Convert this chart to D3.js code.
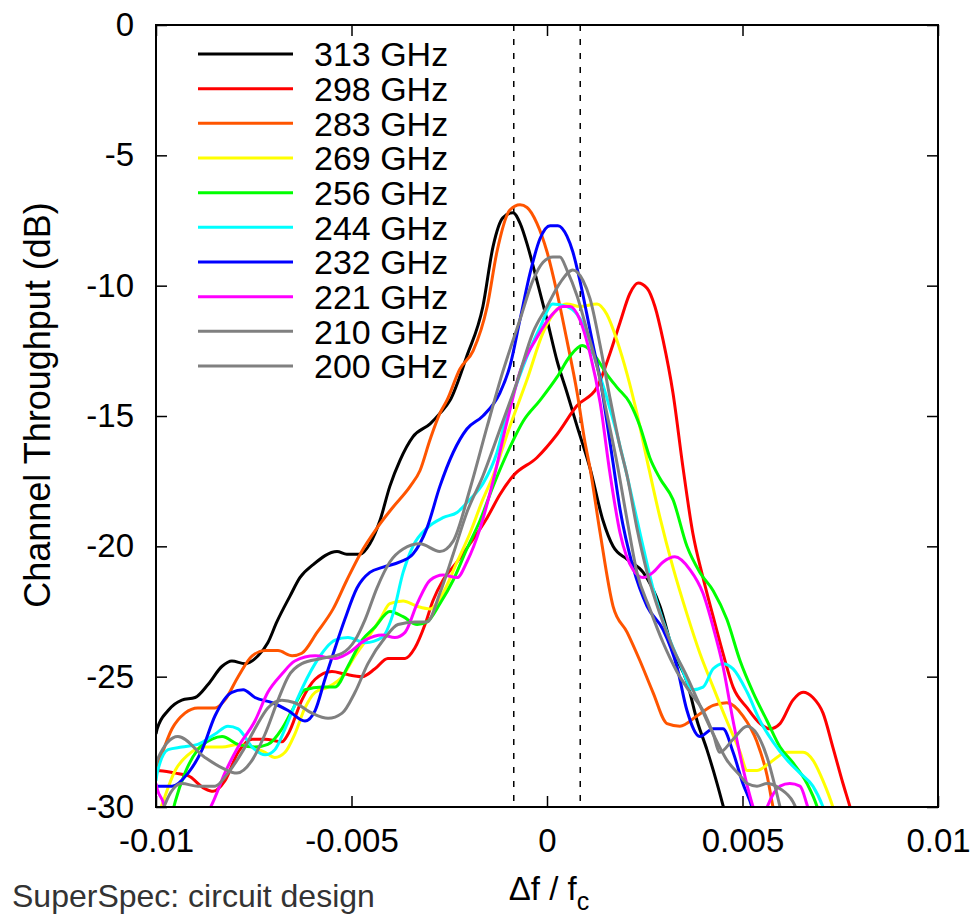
<!DOCTYPE html>
<html>
<head>
<meta charset="utf-8">
<script src="https://cdn.jsdelivr.net/npm/d3@7"></script>
<style>
    body { margin: 0; background: #fff; }
    svg { display: block; font-family: "Liberation Sans", Arial, sans-serif; }
</style>
</head>
<body>
<div id="chart"></div>
<script>
//Datos: [Δf/fc, dB]
const s313 = [[-0.01,-27.2],[-0.00997,-27.0],[-0.00969,-26.3],[-0.00934,-25.9],[-0.00900,-25.8],[-0.00867,-25.3],[-0.00831,-24.6],[-0.00806,-24.4],[-0.00772,-24.5],[-0.00739,-24.2],[-0.00714,-23.7],[-0.00691,-22.9],[-0.00657,-21.9],[-0.00632,-21.2],[-0.00598,-20.7],[-0.00537,-20.2],[-0.00512,-20.3],[-0.00478,-20.3],[-0.00453,-19.9],[-0.00427,-19.0],[-0.00402,-17.7],[-0.00376,-16.7],[-0.00343,-15.8],[-0.00299,-15.3],[-0.00274,-14.9],[-0.00248,-14.4],[-0.00205,-12.7],[-0.00164,-10.8],[-0.00138,-8.5],[-0.00113,-7.4],[-0.00087,-7.2],[-0.00069,-7.6],[-0.00049,-8.5],[-0.00026,-9.8],[0,-11.3],[0.00026,-12.9],[0.00051,-14.1],[0.00077,-15.4],[0.00110,-17.0],[0.00143,-19.0],[0.00169,-20.0],[0.00205,-20.5],[0.00246,-21.0],[0.00289,-22.3],[0.00322,-24.0],[0.00358,-25.2],[0.00384,-26.7],[0.00409,-27.8],[0.00435,-29.1],[0.00460,-30.5]];
const s298 = [[-0.01,-28.6],[-0.00997,-28.6],[-0.00951,-28.7],[-0.00918,-28.8],[-0.00875,-29.3],[-0.00854,-29.4],[-0.00824,-29.0],[-0.00790,-27.9],[-0.00754,-27.4],[-0.00721,-27.4],[-0.00678,-27.5],[-0.00662,-27.2],[-0.00627,-25.9],[-0.00593,-25.1],[-0.00550,-24.8],[-0.00517,-24.9],[-0.00473,-25.0],[-0.00440,-24.7],[-0.00407,-24.3],[-0.00363,-24.3],[-0.00338,-23.9],[-0.00312,-23.0],[-0.00292,-22.1],[-0.00266,-21.3],[-0.00230,-20.6],[-0.00197,-19.9],[-0.00153,-18.9],[-0.00120,-18.0],[-0.00087,-17.3],[-0.00026,-16.6],[0.00026,-15.7],[0.00077,-14.6],[0.00128,-13.9],[0.00161,-12.6],[0.00187,-11.4],[0.00212,-10.3],[0.00233,-9.9],[0.00256,-10.1],[0.00276,-10.8],[0.00297,-12.1],[0.00322,-14.1],[0.00348,-17.0],[0.00373,-19.5],[0.00399,-21.2],[0.00425,-22.7],[0.00450,-24.1],[0.00476,-25.4],[0.00512,-26.2],[0.00545,-26.8],[0.00570,-27.0],[0.00596,-26.8],[0.00629,-25.9],[0.00655,-25.6],[0.00680,-25.8],[0.00706,-26.4],[0.00731,-27.7],[0.00757,-29.1],[0.00775,-30.0],[0.00793,-31.0]];
const s283 = [[-0.01,-28.6],[-0.00995,-28.4],[-0.00959,-27.0],[-0.00926,-26.4],[-0.00893,-26.2],[-0.00849,-26.2],[-0.00824,-25.9],[-0.00790,-25.0],[-0.00754,-24.2],[-0.00721,-24.0],[-0.00688,-24.0],[-0.00652,-24.2],[-0.00627,-24.1],[-0.00588,-23.3],[-0.00547,-22.4],[-0.00512,-21.3],[-0.00478,-20.3],[-0.00435,-19.3],[-0.00394,-18.5],[-0.00350,-17.7],[-0.00325,-17.1],[-0.00299,-15.9],[-0.00274,-14.9],[-0.00256,-14.4],[-0.00223,-13.2],[-0.00189,-12.5],[-0.00153,-10.8],[-0.00128,-8.7],[-0.00095,-7.1],[-0.00069,-6.9],[-0.00051,-7.0],[-0.00026,-7.6],[0,-8.7],[0.00026,-10.3],[0.00051,-12.1],[0.00077,-14.1],[0.00097,-16.0],[0.00110,-17.0],[0.00136,-19.5],[0.00169,-22.3],[0.00205,-23.3],[0.00238,-24.4],[0.00271,-25.6],[0.00307,-26.8],[0.00340,-26.9],[0.00384,-26.5],[0.00425,-26.1],[0.00460,-26.0],[0.00501,-26.5],[0.00537,-27.5],[0.00563,-28.8],[0.00578,-30.0],[0.00596,-31.0]];
const s269 = [[-0.01,-30.6],[-0.00982,-29.8],[-0.00951,-28.6],[-0.00918,-28.0],[-0.00875,-27.7],[-0.00831,-27.7],[-0.00790,-27.6],[-0.00754,-27.7],[-0.00721,-27.9],[-0.00696,-28.1],[-0.00670,-27.9],[-0.00645,-27.2],[-0.00619,-26.2],[-0.00593,-25.6],[-0.00560,-25.4],[-0.00524,-25.0],[-0.00491,-24.2],[-0.00458,-23.5],[-0.00427,-22.8],[-0.00402,-22.2],[-0.00368,-22.1],[-0.00332,-22.3],[-0.00299,-22.4],[-0.00266,-21.8],[-0.00230,-20.6],[-0.00197,-19.5],[-0.00164,-18.2],[-0.00138,-17.3],[-0.00095,-15.4],[-0.00051,-13.6],[-0.00010,-11.8],[0.00026,-10.9],[0.00051,-10.7],[0.00084,-10.8],[0.00128,-10.7],[0.00153,-11.1],[0.00179,-12.1],[0.00205,-13.4],[0.00230,-14.9],[0.00256,-16.7],[0.00289,-18.9],[0.00322,-20.8],[0.00358,-22.6],[0.00391,-24.1],[0.00425,-25.4],[0.00460,-26.7],[0.00494,-27.9],[0.00512,-28.6],[0.00537,-28.6],[0.00570,-28.3],[0.00614,-27.9],[0.00655,-27.9],[0.00680,-28.2],[0.00706,-29.0],[0.00731,-30.0],[0.00749,-31.0]];
const s256 = [[-0.00964,-30.6],[-0.00951,-29.8],[-0.00926,-28.7],[-0.00893,-27.8],[-0.00857,-27.4],[-0.00831,-27.3],[-0.00790,-27.6],[-0.00747,-27.7],[-0.00714,-27.6],[-0.00678,-27.0],[-0.00652,-26.3],[-0.00619,-25.5],[-0.00575,-25.4],[-0.00542,-25.4],[-0.00509,-24.6],[-0.00473,-23.6],[-0.00440,-23.1],[-0.00402,-22.5],[-0.00368,-22.7],[-0.00332,-23.0],[-0.00307,-22.9],[-0.00274,-22.2],[-0.00240,-21.3],[-0.00205,-20.1],[-0.00171,-19.0],[-0.00138,-17.7],[-0.00095,-16.2],[-0.00061,-15.2],[-0.00018,-14.4],[0.00026,-13.5],[0.00059,-12.7],[0.00090,-12.3],[0.00118,-12.6],[0.00153,-13.4],[0.00179,-13.9],[0.00212,-14.5],[0.00238,-15.4],[0.00263,-16.6],[0.00289,-17.4],[0.00322,-18.2],[0.00358,-20.0],[0.00391,-21.0],[0.00425,-21.7],[0.00460,-22.8],[0.00494,-24.4],[0.00527,-25.6],[0.00563,-26.7],[0.00596,-27.7],[0.00629,-28.3],[0.00665,-29.1],[0.00691,-30.0],[0.00706,-30.8]];
const s244 = [[-0.01,-29.0],[-0.00997,-28.7],[-0.00969,-27.8],[-0.00934,-27.7],[-0.00893,-27.6],[-0.00849,-27.2],[-0.00816,-26.9],[-0.00790,-27.0],[-0.00754,-27.7],[-0.00721,-28.0],[-0.00696,-27.8],[-0.00670,-27.0],[-0.00637,-25.8],[-0.00593,-24.5],[-0.00542,-23.6],[-0.00509,-23.5],[-0.00465,-23.7],[-0.00422,-23.5],[-0.00394,-22.6],[-0.00368,-21.0],[-0.00343,-20.0],[-0.00307,-19.3],[-0.00266,-18.9],[-0.00230,-18.7],[-0.00197,-18.2],[-0.00164,-17.6],[-0.00128,-16.4],[-0.00102,-14.9],[-0.00061,-13.1],[-0.00018,-11.6],[0.00015,-10.7],[0.00051,-10.8],[0.00077,-11.1],[0.00102,-11.8],[0.00128,-13.1],[0.00153,-14.3],[0.00179,-15.7],[0.00205,-17.3],[0.00238,-19.5],[0.00271,-21.6],[0.00307,-23.3],[0.00340,-24.5],[0.00373,-25.5],[0.00399,-25.4],[0.00425,-24.7],[0.00450,-24.5],[0.00476,-24.7],[0.00512,-25.6],[0.00545,-26.7],[0.00578,-27.5],[0.00614,-28.2],[0.00647,-28.7],[0.00680,-29.2],[0.00706,-30.0],[0.00724,-30.8]];
const s232 = [[-0.01,-29.2],[-0.00959,-29.2],[-0.00918,-28.7],[-0.00882,-27.8],[-0.00849,-26.5],[-0.00806,-25.6],[-0.00777,-25.5],[-0.00747,-25.8],[-0.00703,-26.0],[-0.00662,-26.3],[-0.00619,-26.7],[-0.00593,-26.3],[-0.00568,-25.1],[-0.00542,-23.9],[-0.00517,-22.8],[-0.00486,-21.6],[-0.00453,-21.0],[-0.00419,-20.8],[-0.00376,-20.6],[-0.00343,-20.3],[-0.00307,-19.3],[-0.00274,-17.7],[-0.00240,-16.4],[-0.00205,-15.5],[-0.00164,-15.0],[-0.00120,-14.1],[-0.00095,-13.1],[-0.00069,-11.3],[-0.00043,-9.5],[-0.00018,-8.2],[0.00008,-7.7],[0.00028,-7.7],[0.00051,-8.1],[0.00066,-8.7],[0.00084,-9.8],[0.00102,-11.1],[0.00118,-12.3],[0.00136,-13.6],[0.00153,-15.2],[0.00169,-16.8],[0.00187,-18.6],[0.00220,-20.8],[0.00256,-22.3],[0.00297,-23.2],[0.00332,-24.6],[0.00358,-26.3],[0.00391,-27.3],[0.00425,-27.0],[0.00450,-27.0],[0.00476,-27.9],[0.00501,-29.1],[0.00524,-30.0],[0.00540,-31.0]];
const s221 = [[-0.01,-29.1],[-0.00997,-29.3],[-0.00982,-29.8],[-0.00969,-30.5],[-0.00913,-31.2],[-0.00854,-29.8],[-0.00824,-28.7],[-0.00790,-27.7],[-0.00747,-26.7],[-0.00714,-25.6],[-0.00678,-24.9],[-0.00645,-24.4],[-0.00593,-24.2],[-0.00542,-24.3],[-0.00509,-24.1],[-0.00465,-23.6],[-0.00422,-23.4],[-0.00389,-23.5],[-0.00363,-23.3],[-0.00332,-22.2],[-0.00299,-21.3],[-0.00266,-21.1],[-0.00230,-21.2],[-0.00205,-20.6],[-0.00171,-19.3],[-0.00138,-17.5],[-0.00102,-15.2],[-0.00069,-13.3],[-0.00026,-12.0],[0.00008,-11.2],[0.00041,-10.8],[0.00059,-10.8],[0.00084,-11.3],[0.00110,-12.6],[0.00136,-14.5],[0.00161,-17.2],[0.00187,-19.5],[0.00220,-20.9],[0.00246,-21.2],[0.00271,-21.0],[0.00297,-20.6],[0.00327,-20.4],[0.00366,-20.9],[0.00399,-21.8],[0.00425,-23.1],[0.00450,-24.6],[0.00476,-26.7],[0.00501,-28.5],[0.00527,-30.0],[0.00545,-30.8],[0.00563,-30.0],[0.00596,-29.2],[0.00621,-29.1],[0.00647,-29.2],[0.00667,-30.0],[0.00685,-30.8]];
const s210 = [[-0.01,-28.4],[-0.00997,-28.2],[-0.00944,-27.3],[-0.00875,-28.1],[-0.00831,-28.5],[-0.00793,-28.7],[-0.00754,-28.2],[-0.00721,-27.2],[-0.00688,-25.9],[-0.00662,-25.0],[-0.00627,-24.5],[-0.00575,-24.3],[-0.00524,-24.1],[-0.00491,-23.6],[-0.00465,-22.8],[-0.00435,-21.6],[-0.00402,-20.6],[-0.00368,-20.1],[-0.00325,-19.9],[-0.00274,-20.2],[-0.00240,-19.8],[-0.00197,-17.8],[-0.00153,-15.4],[-0.00113,-13.3],[-0.00069,-11.3],[-0.00036,-9.8],[-0.00010,-9.1],[0.00015,-8.9],[0.00033,-8.9],[0.00051,-9.4],[0.00077,-10.4],[0.00102,-11.7],[0.00128,-13.1],[0.00153,-14.9],[0.00179,-16.8],[0.00205,-19.0],[0.00230,-21.0],[0.00263,-22.4],[0.00297,-23.7],[0.00332,-24.8],[0.00366,-25.6],[0.00399,-26.3],[0.00425,-27.2],[0.00442,-27.9],[0.00476,-27.4],[0.00512,-26.9],[0.00537,-27.2],[0.00563,-28.1],[0.00588,-29.5],[0.00604,-30.5]];
const s200 = [[-0.00990,-30.5],[-0.00977,-29.9],[-0.00934,-29.1],[-0.00893,-29.2],[-0.00849,-29.2],[-0.00816,-28.7],[-0.00780,-27.9],[-0.00747,-27.0],[-0.00714,-26.2],[-0.00678,-25.9],[-0.00645,-26.0],[-0.00601,-26.4],[-0.00560,-26.6],[-0.00524,-26.4],[-0.00491,-25.6],[-0.00458,-24.5],[-0.00414,-23.5],[-0.00381,-23.0],[-0.00338,-22.9],[-0.00307,-22.9],[-0.00274,-21.8],[-0.00240,-20.3],[-0.00205,-18.7],[-0.00164,-17.3],[-0.00120,-15.5],[-0.00077,-13.7],[-0.00036,-11.8],[0,-10.8],[0.00033,-9.9],[0.00066,-9.4],[0.00092,-9.8],[0.00110,-10.5],[0.00136,-12.3],[0.00161,-14.3],[0.00187,-16.2],[0.00205,-17.3],[0.00230,-19.3],[0.00256,-21.0],[0.00289,-22.6],[0.00322,-23.9],[0.00358,-25.0],[0.00391,-26.1],[0.00425,-27.2],[0.00460,-28.2],[0.00494,-28.8],[0.00512,-29.1],[0.00537,-29.2],[0.00563,-29.1],[0.00596,-29.3],[0.00629,-29.8],[0.00647,-30.4]];

const labels = ['313 GHz','298 GHz','283 GHz','269 GHz','256 GHz','244 GHz','232 GHz','221 GHz','210 GHz','200 GHz'];
const seriesList = [s313, s298, s283, s269, s256, s244, s232, s221, s210, s200];
const xTicks = [-0.01, -0.005, 0, 0.005, 0.01];
const yTicks = [0, -5, -10, -15, -20, -25, -30];
const bandEdges = [-0.00085, 0.00085];

//Colores
const COLORS = ['#000000','#ff0000','#ff5500','#ffff00','#00ff00','#00ffff','#0000ff','#ff00ff','#808080','#808080'];

let margin = {top: 25, right: 37, bottom: 108, left: 156},
    width = 975 - margin.left - margin.right,
    height = 915 - margin.top - margin.bottom;

let svg = d3.select('#chart')
    .append('svg')
        .attr('width', 975)
        .attr('height', 915);

svg.append('rect').attr('width', 975).attr('height', 915).attr('fill', '#fff');

let g = svg.append('g')
    .attr('transform', 'translate(' + margin.left + ',' + margin.top + ')');

let x = d3.scaleLinear().domain([-0.01, 0.01]).range([0, width]);
let y = d3.scaleLinear().domain([-30, 0]).range([height, 0]);

//Ejes (ticks hacia dentro, en los cuatro lados)
function styleAxis(sel) {
    sel.select('.domain').remove();
    sel.selectAll('.tick line').attr('stroke', '#000').attr('stroke-width', 1.5);
    sel.selectAll('.tick text')
        .attr('fill', '#000')
        .attr('font-size', 33)
        .attr('font-family', '"Liberation Sans", Arial, sans-serif');
}

g.append('g')
    .attr('transform', 'translate(0,' + height + ')')
    .call(d3.axisBottom(x).tickValues(xTicks).tickSize(-11).tickPadding(22).tickFormat(d => String(d)))
    .call(styleAxis);

g.append('g')
    .call(d3.axisTop(x).tickValues(xTicks).tickSize(-11).tickFormat(''))
    .call(styleAxis);

g.append('g')
    .call(d3.axisLeft(y).tickValues(yTicks).tickSize(-11).tickPadding(22).tickFormat(d => String(d)))
    .call(styleAxis);

g.append('g')
    .attr('transform', 'translate(' + width + ',0)')
    .call(d3.axisRight(y).tickValues(yTicks).tickSize(-11).tickFormat(''))
    .call(styleAxis);

//Líneas discontinuas
g.selectAll('.edge')
    .data(bandEdges)
    .enter()
    .append('line')
    .attr('x1', d => x(d)).attr('x2', d => x(d))
    .attr('y1', 0).attr('y2', height)
    .attr('stroke', '#000')
    .attr('stroke-width', 1.5)
    .attr('stroke-dasharray', '6,8');

//Curvas
g.append('clipPath').attr('id', 'clip')
    .append('rect').attr('width', width).attr('height', height);

let line = d3.line()
    .x(d => x(d[0]))
    .y(d => y(d[1]))
    .curve(d3.curveMonotoneX);

g.append('g')
    .attr('clip-path', 'url(#clip)')
    .selectAll('path')
    .data(seriesList)
    .enter()
    .append('path')
    .attr('d', line)
    .attr('fill', 'none')
    .attr('stroke', (d, i) => COLORS[i])
    .attr('stroke-width', 3)
    .attr('stroke-linejoin', 'round');

//Marco
g.append('rect')
    .attr('width', width).attr('height', height)
    .attr('fill', 'none')
    .attr('stroke', '#000')
    .attr('stroke-width', 2);

//Leyenda
let legend = svg.append('g').selectAll('g')
    .data(labels)
    .enter()
    .append('g')
    .attr('transform', (d, i) => 'translate(0,' + (54 + i * 34.67) + ')');

legend.append('line')
    .attr('x1', 198).attr('x2', 293)
    .attr('stroke', (d, i) => COLORS[i])
    .attr('stroke-width', 3);

legend.append('text')
    .attr('x', 314)
    .attr('dy', '0.36em')
    .attr('font-size', 34)
    .text(d => d);

//Títulos
svg.append('text')
    .attr('transform', 'translate(50,405) rotate(-90)')
    .attr('text-anchor', 'middle')
    .attr('font-size', 36)
    .text('Channel Throughput (dB)');

let xt = svg.append('text')
    .attr('x', 549).attr('y', 900)
    .attr('text-anchor', 'middle')
    .attr('font-size', 33);
xt.append('tspan').text('\u0394f / f');
xt.append('tspan').attr('dy', 10).attr('font-size', 25).text('c');

svg.append('text')
    .attr('x', 12).attr('y', 907)
    .attr('font-size', 32)
    .attr('fill', '#333')
    .text('SuperSpec: circuit design');
</script>
</body>
</html>
